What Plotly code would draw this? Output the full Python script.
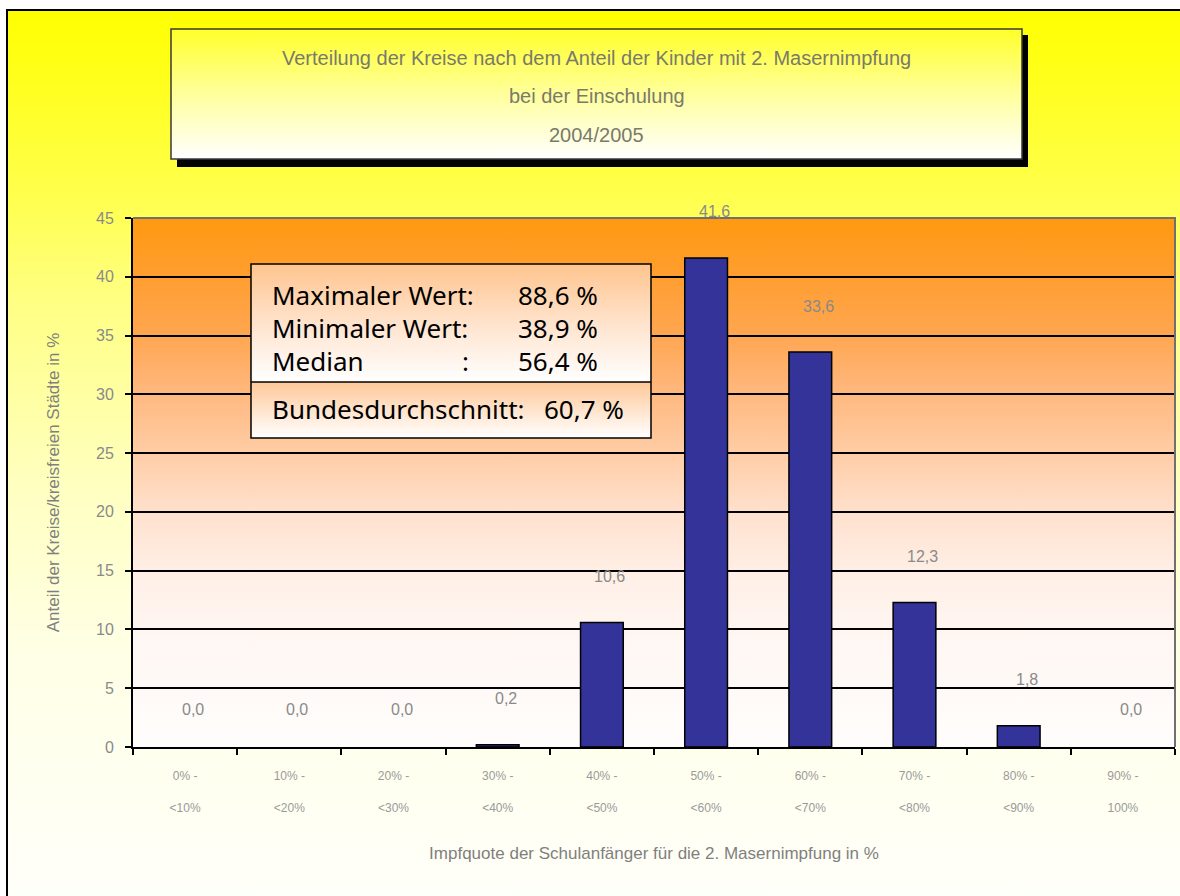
import base64
import plotly.graph_objects as go

# ---- data -------------------------------------------------------------
range_from = ["0% -", "10% -", "20% -", "30% -", "40% -",
              "50% -", "60% -", "70% -", "80% -", "90% -"]
range_to = ["<10%", "<20%", "<30%", "<40%", "<50%",
            "<60%", "<70%", "<80%", "<90%", "100%"]
share_of_districts = [0.0, 0.0, 0.0, 0.2, 10.6, 41.6, 33.6, 12.3, 1.8, 0.0]

y_ticks = [0, 5, 10, 15, 20, 25, 30, 35, 40, 45]

title_lines = [
    "Verteilung der Kreise nach dem Anteil der Kinder mit 2. Masernimpfung",
    "bei der Einschulung",
    "2004/2005",
]
x_title = "Impfquote der Schulanfänger für die 2. Masernimpfung in %"
y_title = "Anteil der Kreise/kreisfreien Städte in %"

stats_labels = ["Maximaler Wert:", "Minimaler Wert:", "Median"]
stats_values = [88.6, 38.9, 56.4]
national_label = "Bundesdurchschnitt:"
national_value = 60.7

# ---- layout geometry (pixels) -----------------------------------------
W, H = 1180, 896
L, R, T, B = 133, 5, 218, 149
PW = W - L - R
PH = H - T - B


def px(x):
    return (x - L) / PW


def py(y):
    return (H - B - y) / PH


def de(v, nd=1):
    return f"{v:.{nd}f}".replace(".", ",")


def gradient(stops):
    """Vertical SVG gradient usable as a stretched layout image."""
    st = "".join(
        f'<stop offset="{o}" stop-color="{c}"/>' for o, c in stops
    )
    svg = (
        '<svg xmlns="http://www.w3.org/2000/svg" width="100" height="100" '
        'viewBox="0 0 100 100" preserveAspectRatio="none">'
        f'<defs><linearGradient id="g" x1="0" y1="0" x2="0" y2="1">{st}'
        '</linearGradient></defs>'
        '<rect x="0" y="0" width="100" height="100" fill="url(#g)"/></svg>'
    )
    return "data:image/svg+xml;base64," + base64.b64encode(svg.encode()).decode()


def panel(x0, y0, x1, y1, stops, layer="below"):
    return dict(
        source=gradient(stops), xref="paper", yref="paper",
        x=px(x0), y=py(y0), sizex=px(x1) - px(x0), sizey=py(y0) - py(y1),
        xanchor="left", yanchor="top", sizing="stretch", layer=layer,
    )


categories = [f"{a}<br><br>{b}" for a, b in zip(range_from, range_to)]

fig = go.Figure(
    go.Bar(
        x=categories,
        y=share_of_districts,
        width=0.41,
        marker=dict(
            color="#333399",
            line=dict(color="#000000",
                      width=[1.5 if v > 0 else 0 for v in share_of_districts]),
        ),
        hoverinfo="x+y",
    )
)

images = [
    # page background
    panel(7, 10, 1200, 905, [(0, "#FFFF00"), (0.2, "#FFFF4A"), (0.33, "#FFFF85"),
                             (0.53, "#FFFFC0"), (0.72, "#FFFFE6"), (1, "#FFFFFA")]),
    # plot area background
    panel(L, T, L + PW, T + PH, [(0, "#FF9910"), (0.11, "#FF9E30"), (0.22, "#FFA650"),
                                 (0.33, "#FFB87E"), (0.45, "#FFCEA8"), (0.56, "#FFE1CE"),
                                 (0.67, "#FFEFE6"), (0.8, "#FFF7F3"), (1, "#FFFDFC")]),
    # title box shadow and title box
    panel(177, 35, 1028, 167, [(0, "#000000"), (1, "#000000")]),
    panel(171, 29, 1022, 159, [(0, "#FFFF2A"), (0.5, "#FFFF9C"), (1, "#FFFFFF")]),
    # statistics box
    panel(251, 264, 651, 382, [(0, "#FFC48E"), (0.55, "#FFE6D2"), (1, "#FFFFFF")], "above"),
    panel(251, 382, 651, 438, [(0, "#FFC898"), (1, "#FFFFFF")], "above"),
]

shapes = [
    # outer frame
    dict(type="rect", xref="paper", yref="paper", x0=px(7), y0=py(10),
         x1=px(1200), y1=py(905), line=dict(color="#000000", width=2), layer="below"),
    # title box border
    dict(type="rect", xref="paper", yref="paper", x0=px(171), y0=py(29),
         x1=px(1022), y1=py(159), line=dict(color="#3A3A3A", width=1.5), layer="below"),
    # plot area border (top and right)
    dict(type="path", xref="paper", yref="paper", path="M 0,1 L 1,1 L 1,0",
         line=dict(color="#707070", width=2), layer="above"),
    # statistics box border and separator
    dict(type="rect", xref="paper", yref="paper", x0=px(251), y0=py(264),
         x1=px(651), y1=py(438), line=dict(color="#000000", width=1.5), layer="above"),
    dict(type="line", xref="paper", yref="paper", x0=px(251), y0=py(382),
         x1=px(651), y1=py(382), line=dict(color="#000000", width=1.5), layer="above"),
]

annotations = []
# title lines
for txt, yy in zip(title_lines, [57.5, 96, 135]):
    annotations.append(dict(
        text=txt, xref="paper", yref="paper", x=px(596.5), y=py(yy),
        showarrow=False, xanchor="center", yanchor="middle",
        font=dict(family="Liberation Sans, Arial, sans-serif", size=20, color="#7A7A6A"),
    ))

# statistics box text
info_font = dict(family="Noto Sans, sans-serif", size=26, color="#000000")
for lab, val, yy in zip(stats_labels, stats_values, [295, 328, 361]):
    annotations.append(dict(text=lab, xref="paper", yref="paper", x=px(270), y=py(yy),
                            showarrow=False, xanchor="left", yanchor="middle", font=info_font))
    annotations.append(dict(text=f"{de(val)} %", xref="paper", yref="paper", x=px(516),
                            y=py(yy), showarrow=False, xanchor="left", yanchor="middle",
                            font=info_font))
annotations.append(dict(text=":", xref="paper", yref="paper", x=px(465), y=py(361),
                        showarrow=False, xanchor="center", yanchor="middle", font=info_font))
annotations.append(dict(text=national_label, xref="paper", yref="paper", x=px(270),
                        y=py(409), showarrow=False, xanchor="left", yanchor="middle",
                        font=info_font))
annotations.append(dict(text=f"{de(national_value)} %", xref="paper", yref="paper",
                        x=px(542), y=py(409), showarrow=False, xanchor="left",
                        yanchor="middle", font=info_font))

# value labels above the bars
for cat, val in zip(categories, share_of_districts):
    annotations.append(dict(
        text=de(val), x=cat, y=val, xref="x", yref="y", showarrow=False,
        xanchor="center", yanchor="middle", xshift=8, yshift=46 if val > 0 else 38,
        font=dict(family="Liberation Sans, Arial, sans-serif", size=16, color="#8A8A8A"),
    ))

fig.update_layout(
    width=W, height=H,
    margin=dict(l=L, r=R, t=T, b=B, pad=0),
    paper_bgcolor="#FFFFFF",
    plot_bgcolor="rgba(0,0,0,0)",
    showlegend=False,
    bargap=0.59,
    images=images,
    shapes=shapes,
    annotations=annotations,
    xaxis=dict(
        type="category",
        showgrid=False,
        showline=True, linecolor="#000000", linewidth=2,
        ticks="outside", ticklen=6, tickwidth=1.5, tickcolor="#000000",
        tickson="boundaries",
        tickfont=dict(family="Liberation Sans, Arial, sans-serif", size=12, color="#9A9A9A"),
        ticklabelstandoff=17,
        title=dict(text=x_title, standoff=34,
                   font=dict(family="Liberation Sans, Arial, sans-serif", size=17,
                             color="#7F7F7F")),
        fixedrange=True,
    ),
    yaxis=dict(
        range=[0, 45],
        tickmode="array", tickvals=y_ticks,
        showgrid=True, gridcolor="#000000", gridwidth=1.5,
        zeroline=False,
        showline=True, linecolor="#000000", linewidth=2,
        ticks="outside", ticklen=6, tickwidth=1.5, tickcolor="#000000",
        tickfont=dict(family="Liberation Sans, Arial, sans-serif", size=16, color="#8A8A8A"),
        ticklabelstandoff=8,
        title=dict(text=y_title, standoff=32,
                   font=dict(family="Liberation Sans, Arial, sans-serif", size=17,
                             color="#7F7F7F")),
        fixedrange=True,
    ),
)

fig.write_html("out.html")
